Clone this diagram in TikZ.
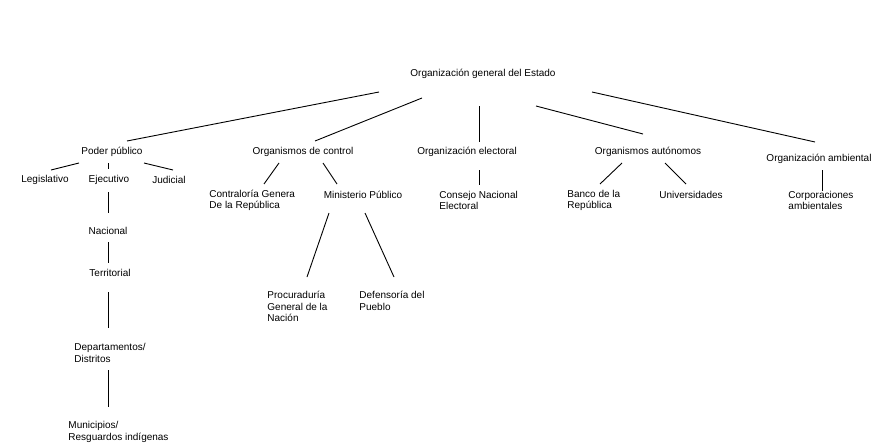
\documentclass[tikz,border=0pt]{standalone}
\usepackage{fontspec}
\setmainfont{Liberation Sans}
\usetikzlibrary{positioning}

\begin{document}
\begin{tikzpicture}[x=1pt, y=-1pt, line width=0.9pt,
    lbl/.style={inner sep=0pt, font=\fontsize{10}{11.5}\selectfont},
    ml/.style={lbl, align=left, anchor=west}]
  \useasboundingbox (0,0) rectangle (877,444);

  % top level
  \node[lbl] (root) at (483,74) {Organización general del Estado};
  \node[lbl] (poder) at (112,152) {Poder público};
  \node[lbl] (control) at (303,152) {Organismos de control};
  \node[lbl] (electoral) at (467,152) {Organización electoral};
  \node[lbl] (autonomos) at (648,152) {Organismos autónomos};
  \node[lbl] (ambiental) at (819,159) {Organización ambiental};

  % poder publico
  \node[lbl] (legis) at (45,180) {Legislativo};
  \node[lbl] (ejec) at (109,180) {Ejecutivo};
  \node[lbl] (judicial) at (169,180) {Judicial};
  \node[lbl] (nacional) at (108,231) {Nacional};
  \node[lbl] (territorial) at (110,273) {Territorial};
  \node[ml] (deptos) at (74,353) {Departamentos/\\Distritos};
  \node[ml] (munic) at (68,432) {Municipios/\\Resguardos indígenas};

  % control
  \node[ml] (contraloria) at (209,200.5) {Contraloría Genera\\De la República};
  \node[lbl] (ministerio) at (363,195) {Ministerio Público};
  \node[ml] (procu) at (267,306.7) {Procuraduría\\General de la\\Nación};
  \node[ml] (defensoria) at (359,301) {Defensoría del\\Pueblo};

  % electoral, autonomos, ambiental
  \node[ml] (consejo) at (439,200.5) {Consejo Nacional\\Electoral};
  \node[ml] (banco) at (567,200.5) {Banco de la\\República};
  \node[lbl] (univ) at (691,195) {Universidades};
  \node[ml] (corpor) at (788,200.5) {Corporaciones\\ambientales};

  \draw ([shift={(-104,18)}]root.center) -- ([shift={(15,-11)}]poder.center);
  \draw ([shift={(-61,24)}]root.center) -- ([shift={(12,-11)}]control.center);
  \draw ([shift={(-4,32)}]root.center) -- ([shift={(12,-10)}]electoral.center);
  \draw ([shift={(53,32)}]root.center) -- ([shift={(-5,-18)}]autonomos.center);
  \draw ([shift={(109,18)}]root.center) -- ([shift={(-4,-17)}]ambiental.center);

  \draw ([shift={(-33,11)}]poder.center) -- ([shift={(6,-10)}]legis.center);
  \draw ([shift={(-4,11)}]poder.center) -- ([shift={(-1,-11)}]ejec.center);
  \draw ([shift={(32,11)}]poder.center) -- ([shift={(4,-10)}]judicial.center);
  \draw ([shift={(-1,12)}]ejec.center) -- ([shift={(0,-18)}]nacional.center);
  \draw ([shift={(0,11)}]nacional.center) -- ([shift={(-2,-10)}]territorial.center);
  \draw ([shift={(-2,19)}]territorial.center) -- ([shift={(34,-25)}]deptos.west);
  \draw ([shift={(34,17)}]deptos.west) -- ([shift={(40,-25)}]munic.west);

  \draw ([shift={(-24,11)}]control.center) -- ([shift={(55,-16.5)}]contraloria.west);
  \draw ([shift={(20,11)}]control.center) -- ([shift={(-26,-11)}]ministerio.center);
  \draw ([shift={(-34,18)}]ministerio.center) -- ([shift={(40,-29.7)}]procu.west);
  \draw ([shift={(2,18)}]ministerio.center) -- ([shift={(35,-24)}]defensoria.west);

  \draw ([shift={(12,18)}]electoral.center) -- ([shift={(40,-15.5)}]consejo.west);
  \draw ([shift={(-26,11)}]autonomos.center) -- ([shift={(33,-16.5)}]banco.west);
  \draw ([shift={(17,11)}]autonomos.center) -- ([shift={(-5,-11)}]univ.center);
  \draw ([shift={(3,11)}]ambiental.center) -- ([shift={(34,-9.5)}]corpor.west);
\end{tikzpicture}
\end{document}
